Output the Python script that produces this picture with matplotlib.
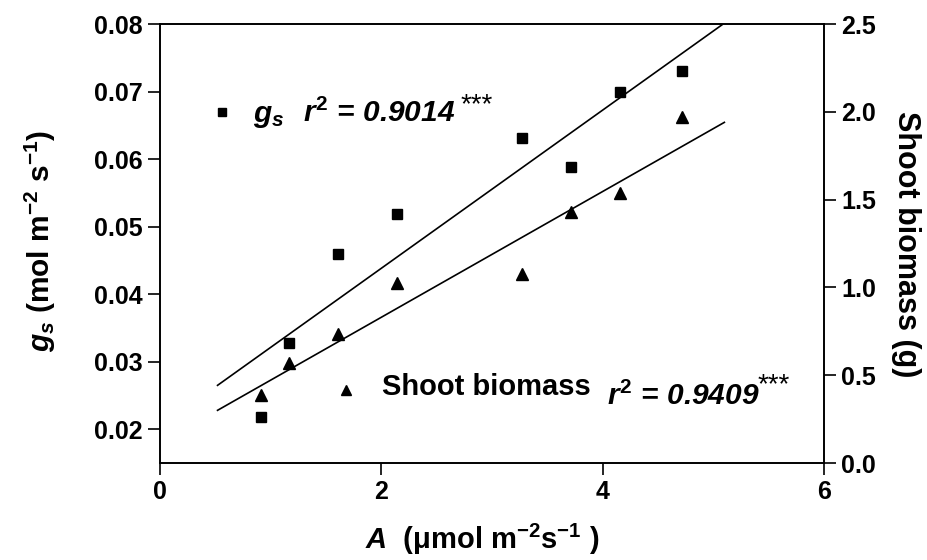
import matplotlib
matplotlib.use("Agg")
import matplotlib.pyplot as plt
from matplotlib.ticker import FormatStrFormatter, FixedLocator

plt.rcParams['font.family'] = ['Liberation Sans', 'DejaVu Sans']
plt.rcParams['font.weight'] = 'bold'
plt.rcParams['mathtext.fontset'] = 'custom'
plt.rcParams['mathtext.rm'] = 'Liberation Sans:bold'
plt.rcParams['mathtext.it'] = 'Liberation Sans:italic:bold'
plt.rcParams['mathtext.bf'] = 'Liberation Sans:bold'
plt.rcParams['mathtext.sf'] = 'Liberation Sans:bold'

# ---- data ----
A = [0.91, 1.165, 1.61, 2.14, 3.27, 3.71, 4.155, 4.72]
gs = [0.0218, 0.0327, 0.0460, 0.0519, 0.0631, 0.0589, 0.0699, 0.0730]
biomass = [0.39, 0.57, 0.735, 1.025, 1.075, 1.43, 1.54, 1.97]

gs_fit_A = [0.52, 5.08]
gs_fit = [0.0265, 0.0799]
bio_fit_A = [0.52, 5.10]
bio_fit = [0.30, 1.94]

x_ticks = [0, 2, 4, 6]
gs_ticks = [0.02, 0.03, 0.04, 0.05, 0.06, 0.07, 0.08]
bio_ticks = [0.0, 0.5, 1.0, 1.5, 2.0, 2.5]

gs_name = r'$g_s$'
gs_r2 = r'$r^{2}$ = 0.9014'
bio_name = 'Shoot biomass'
bio_r2 = r'$r^{2}$ = 0.9409'
sig = '***'

# ---- figure ----
fig = plt.figure(figsize=(9.28, 5.6), dpi=100)
ax = fig.add_axes([0.1724, 0.1732, 0.7155, 0.7839])
ax2 = ax.twinx()

ax.set_xlim(0, 6)
ax.set_ylim(0.015, 0.08)
ax2.set_ylim(0, 2.5)

ax.plot(A, gs, linestyle='none', marker='s', color='black', markersize=7)
ax2.plot(A, biomass, linestyle='none', marker='^', color='black', markersize=8.5)
ax.plot(gs_fit_A, gs_fit, color='black', linewidth=1.2)
ax2.plot(bio_fit_A, bio_fit, color='black', linewidth=1.2)

ax.xaxis.set_major_locator(FixedLocator(x_ticks))
ax.yaxis.set_major_locator(FixedLocator(gs_ticks))
ax2.yaxis.set_major_locator(FixedLocator(bio_ticks))
ax.xaxis.set_major_formatter(FormatStrFormatter('%d'))
ax.yaxis.set_major_formatter(FormatStrFormatter('%.2f'))
ax2.yaxis.set_major_formatter(FormatStrFormatter('%.1f'))

for a in (ax, ax2):
    for s in a.spines.values():
        s.set_linewidth(1.2)
ax.tick_params(axis='both', direction='out', length=8.5, width=1.2,
               labelsize=18, pad=4)
ax.tick_params(axis='y', right=False)
ax2.tick_params(axis='y', direction='out', length=8.5, width=1.2,
                labelsize=18, pad=4)
for lab in ax.get_xticklabels() + ax.get_yticklabels() + ax2.get_yticklabels():
    lab.set_fontweight('bold')

# legend-like annotations
ax.plot([0.093], [0.8], marker='s', color='black', markersize=6,
        transform=ax.transAxes, linestyle='none')
ax.text(0.140, 0.777, gs_name, transform=ax.transAxes, fontsize=21.5,
        va='baseline', ha='left')
ax.text(0.215, 0.777, gs_r2, transform=ax.transAxes, fontsize=21.5,
        fontstyle='italic', fontweight='bold', va='baseline', ha='left')
ax.text(0.452, 0.80, sig, transform=ax.transAxes, fontsize=20,
        fontweight='normal', va='baseline', ha='left')

ax.plot([0.280], [0.166], marker='^', color='black', markersize=7,
        transform=ax.transAxes, linestyle='none')
ax.text(0.334, 0.155, bio_name, transform=ax.transAxes, fontsize=21,
        fontweight='bold', va='baseline', ha='left')
ax.text(0.673, 0.132, bio_r2, transform=ax.transAxes, fontsize=21.5,
        fontstyle='italic', fontweight='bold', va='baseline', ha='left')
ax.text(0.9006, 0.162, sig, transform=ax.transAxes, fontsize=20,
        fontweight='normal', va='baseline', ha='left')

# axis labels
fig.text(0.044, 0.570, r'$g_s$ (mol m$^{-2}$ s$^{-1}$)', rotation=90,
         ha='center', va='center', fontsize=21.5, fontweight='bold')
fig.text(0.976, 0.564, 'Shoot biomass (g)', rotation=270,
         ha='center', va='center', fontsize=22, fontweight='bold')
fig.text(0.520, 0.036, r'$A$  ($\mathrm{\mu}$mol m$^{-2}$s$^{-1}$ )',
         ha='center', va='center', fontsize=21, fontweight='bold')

fig.savefig('out.png', dpi=100)
